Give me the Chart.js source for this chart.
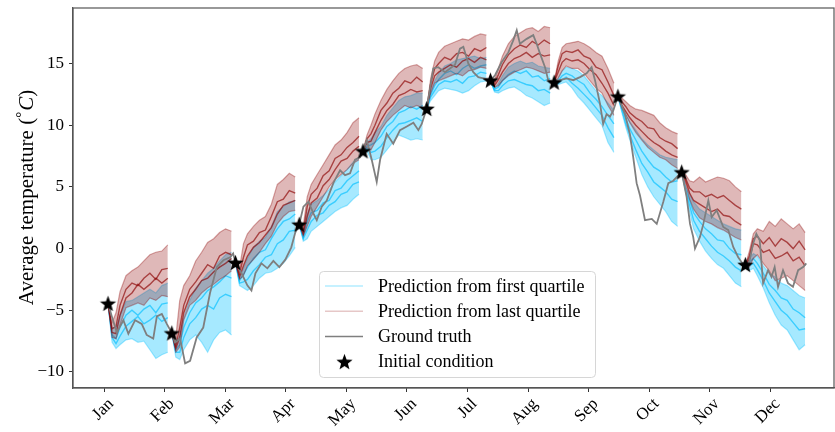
<!DOCTYPE html>
<html>
<head>
<meta charset="utf-8">
<script src="https://cdn.jsdelivr.net/npm/chart.js@4.4.0/dist/chart.umd.min.js"></script>
<style>
  html, body { margin: 0; padding: 0; background: #fff; }
</style>
</head>
<body>
<canvas id="tempChart" width="835" height="432"></canvas>
<script>
// axis labels
const monthLabels = ['Jan', 'Feb', 'Mar', 'Apr', 'May', 'Jun', 'Jul', 'Aug', 'Sep', 'Oct', 'Nov', 'Dec'];
const monthTicks = [0, 30.4, 60.8, 91.3, 121.7, 152.1, 182.5, 212.9, 243.3, 273.8, 304.2, 334.6];
const yTicks = [-10, -5, 0, 5, 10, 15];

// initial conditions (day of year, temperature)
const startDays = [2, 34, 66, 98, 130, 162, 194, 226, 258, 290, 322];
const startTemps = [-4.44, -6.84, -1.13, 1.97, 7.92, 11.35, 13.65, 13.49, 12.35, 6.21, -1.30];
// lead time (days) of each forecast sample
const leadDays = [0, 2, 4, 6, 9, 12, 15, 18, 21, 24, 27, 30];

// forecasts started from the first quartile (blue): envelope + two members per month
const blueHi = [
  [-4.44, -6.4, -6.4, -5.4, -4.3, -4.2, -3.9, -3.6, -3.3, -3.6, -3.0, -2.8],
  [-6.84, -7.8, -7.0, -5.6, -4.2, -3.2, -2.6, -2.0, -1.6, -1.0, -0.5, -0.3],
  [-1.13, -2.4, -1.6, -0.8, 0.1, 0.6, 0.9, 1.8, 3.0, 3.4, 3.8, 3.9],
  [1.97, 1.2, 2.8, 3.6, 3.9, 4.3, 4.8, 5.4, 5.9, 6.4, 7.0, 7.4],
  [7.92, 8.6, 8.9, 9.4, 9.9, 10.8, 11.4, 12.0, 12.3, 12.4, 12.6, 12.6],
  [11.35, 12.8, 13.6, 14.2, 14.8, 15.0, 15.3, 15.4, 15.5, 15.6, 15.4, 15.5],
  [13.65, 13.0, 13.4, 14.0, 14.7, 15.0, 15.2, 15.0, 15.1, 14.8, 14.7, 14.6],
  [13.49, 13.8, 14.4, 14.7, 14.6, 14.4, 14.0, 13.4, 12.8, 12.4, 11.8, 11.2],
  [12.35, 11.6, 10.9, 10.3, 9.6, 8.9, 8.4, 8.0, 7.6, 7.4, 7.3, 7.2],
  [6.21, 5.0, 4.4, 3.8, 3.2, 2.9, 2.6, 2.3, 2.0, 1.8, 1.6, 1.5],
  [-1.30, -0.8, -0.4, -0.6, -1.4, -2.0, -2.3, -2.8, -3.0, -3.4, -3.8, -4.0]
];
const blueLo = [
  [-4.44, -7.6, -8.1, -7.8, -7.4, -7.3, -7.6, -7.5, -8.2, -8.9, -8.6, -8.4],
  [-6.84, -8.8, -9.0, -8.2, -7.4, -7.0, -7.6, -8.4, -7.4, -6.8, -6.6, -7.0],
  [-1.13, -3.0, -3.2, -3.4, -3.0, -2.4, -2.0, -1.9, -1.6, -1.2, -0.6, 0.1],
  [1.97, 0.6, 0.8, 1.4, 1.8, 2.2, 2.6, 3.0, 3.3, 3.5, 4.0, 4.4],
  [7.92, 7.9, 7.2, 7.2, 7.4, 8.0, 8.6, 9.2, 9.0, 8.8, 8.9, 8.8],
  [11.35, 12.0, 12.4, 12.8, 13.0, 12.9, 12.8, 12.6, 12.8, 13.2, 13.5, 13.6],
  [13.65, 12.7, 12.6, 12.8, 13.0, 13.1, 12.8, 12.4, 12.2, 11.9, 11.6, 11.8],
  [13.49, 13.3, 13.4, 13.5, 13.0, 12.3, 11.8, 11.2, 10.6, 10.0, 8.6, 7.8],
  [12.35, 11.0, 9.8, 8.8, 7.4, 6.0, 5.0, 4.2, 3.6, 3.0, 2.2, 1.8],
  [6.21, 4.6, 3.0, 1.6, 0.6, -0.2, -0.8, -1.3, -1.6, -2.2, -2.8, -3.1],
  [-1.30, -1.8, -1.6, -2.2, -3.2, -4.4, -5.4, -6.2, -6.6, -7.4, -8.2, -7.8]
];
const blueM1 = [
  [-4.44, -7.0, -7.3, -6.4, -5.4, -5.0, -5.4, -4.9, -4.6, -5.2, -4.5, -4.4],
  [-6.84, -8.2, -7.8, -6.4, -5.2, -4.4, -4.0, -3.4, -3.1, -2.7, -2.2, -2.4],
  [-1.13, -2.6, -2.1, -1.5, -0.8, -0.3, -0.1, 0.8, 1.6, 2.2, 2.4, 2.8],
  [1.97, 0.9, 2.2, 2.9, 3.1, 3.7, 3.9, 4.7, 4.9, 5.5, 5.9, 6.3],
  [7.92, 8.3, 8.4, 8.6, 9.1, 9.9, 10.3, 11.0, 11.2, 11.5, 11.3, 11.6],
  [11.35, 12.5, 13.2, 13.7, 14.2, 14.4, 14.1, 14.6, 14.9, 14.6, 14.8, 14.9],
  [13.65, 12.9, 13.1, 13.6, 14.1, 14.4, 14.2, 14.4, 13.9, 14.0, 13.6, 13.8],
  [13.49, 13.6, 14.0, 14.2, 14.0, 13.6, 13.3, 12.6, 12.1, 11.5, 10.8, 10.1],
  [12.35, 11.4, 10.5, 9.7, 8.8, 7.9, 7.2, 6.6, 6.3, 5.8, 5.4, 5.5],
  [6.21, 4.8, 3.9, 2.9, 2.2, 1.6, 1.2, 0.7, 0.6, 0.0, -0.4, -0.5],
  [-1.30, -1.1, -0.8, -1.2, -2.0, -2.9, -3.4, -4.0, -4.2, -4.9, -5.2, -5.6]
];
const blueM2 = [
  [-4.44, -7.2, -7.7, -7.1, -6.3, -5.9, -5.5, -6.1, -5.8, -5.4, -5.9, -5.6],
  [-6.84, -8.4, -8.4, -7.2, -6.1, -5.6, -4.9, -4.6, -4.9, -4.0, -3.7, -3.9],
  [-1.13, -2.8, -2.7, -2.5, -1.8, -1.3, -0.7, -0.5, 0.4, 0.7, 1.4, 1.5],
  [1.97, 0.8, 1.5, 2.2, 2.7, 2.9, 3.5, 3.8, 4.4, 4.6, 5.2, 5.4],
  [7.92, 8.1, 7.8, 7.9, 8.3, 9.0, 9.6, 10.1, 10.2, 10.4, 10.6, 10.3],
  [11.35, 12.3, 12.8, 13.3, 13.6, 13.5, 13.7, 13.4, 13.9, 14.0, 14.3, 14.2],
  [13.65, 12.8, 12.8, 13.2, 13.6, 13.7, 13.5, 13.3, 13.2, 12.8, 12.9, 12.6],
  [13.49, 13.4, 13.7, 13.9, 13.4, 13.0, 12.5, 12.0, 11.4, 10.8, 9.8, 9.0],
  [12.35, 11.2, 10.1, 9.2, 8.0, 6.9, 6.2, 5.4, 5.0, 4.6, 4.0, 3.8],
  [6.21, 4.7, 3.5, 2.3, 1.4, 0.8, 0.2, -0.3, -0.6, -1.0, -1.5, -1.8],
  [-1.30, -1.4, -1.2, -1.7, -2.6, -3.6, -4.3, -5.0, -5.4, -6.0, -6.6, -6.5]
];

// forecasts started from the last quartile (red)
const redHi = [
  [-4.44, -6.0, -5.2, -3.5, -2.2, -1.8, -1.5, -1.0, -0.5, -0.3, -0.2, 0.3],
  [-6.84, -7.2, -4.2, -3.0, -2.2, -1.0, -0.3, 0.5, 0.8, 1.3, 1.6, 1.4],
  [-1.13, -1.6, 0.4, 1.2, 1.8, 2.3, 2.6, 3.6, 5.2, 5.6, 6.1, 5.8],
  [1.97, 1.8, 4.2, 5.2, 6.0, 6.8, 7.6, 8.4, 8.8, 9.4, 10.2, 10.6],
  [7.92, 9.2, 10.0, 10.9, 12.0, 12.9, 13.6, 14.2, 14.6, 14.8, 14.9, 14.6],
  [11.35, 13.8, 15.2, 15.9, 16.4, 16.6, 16.8, 17.0, 16.9, 17.2, 17.4, 17.3],
  [13.65, 13.6, 14.6, 15.6, 16.6, 17.2, 17.5, 17.8, 17.9, 17.6, 18.0, 17.9],
  [13.49, 15.2, 16.3, 16.6, 16.7, 16.8, 16.6, 16.3, 15.9, 15.6, 14.6, 13.4],
  [12.35, 12.2, 11.9, 11.6, 11.3, 11.2, 11.0, 10.8, 10.2, 9.8, 9.5, 9.3],
  [6.21, 6.0, 5.5, 5.4, 5.8, 5.4, 5.6, 5.8, 5.7, 5.5, 5.0, 4.6],
  [-1.30, -0.2, 1.2, 1.6, 1.4, 2.2, 1.8, 2.4, 2.0, 1.6, 2.0, 1.3]
];
const redLo = [
  [-4.44, -7.2, -7.3, -6.2, -4.8, -4.6, -4.4, -4.6, -4.0, -4.2, -3.8, -3.9],
  [-6.84, -8.4, -8.0, -5.8, -4.6, -4.2, -3.6, -3.2, -2.9, -2.5, -2.2, -1.8],
  [-1.13, -2.5, -2.2, -1.4, -0.9, -0.3, 0.4, 1.0, 2.0, 2.6, 3.0, 3.1],
  [1.97, 1.0, 1.8, 2.6, 3.4, 4.2, 5.0, 5.6, 6.0, 6.4, 6.9, 7.2],
  [7.92, 8.2, 8.0, 8.6, 9.6, 10.3, 10.8, 11.2, 11.6, 11.4, 11.6, 11.4],
  [11.35, 12.6, 13.4, 13.6, 13.8, 14.0, 14.2, 14.0, 14.4, 14.5, 14.7, 14.6],
  [13.65, 13.1, 13.2, 13.6, 14.0, 14.3, 14.5, 14.7, 14.6, 14.4, 14.2, 14.3],
  [13.49, 13.8, 14.4, 14.8, 14.6, 14.6, 14.2, 13.6, 13.0, 12.6, 11.6, 10.8],
  [12.35, 11.4, 10.8, 10.2, 9.4, 8.8, 8.2, 7.8, 7.4, 7.2, 6.8, 6.5],
  [6.21, 5.2, 4.0, 3.2, 2.5, 2.2, 2.0, 1.7, 1.5, 1.2, 0.9, 0.7],
  [-1.30, -1.5, -0.8, -0.5, -1.2, -1.8, -2.6, -2.4, -2.2, -2.6, -3.0, -3.4]
];
const redM1 = [
  [-4.44, -6.5, -6.3, -4.6, -3.3, -2.8, -3.0, -2.4, -2.0, -2.5, -1.7, -1.6],
  [-6.84, -7.9, -6.4, -4.6, -3.3, -2.7, -2.0, -1.3, -1.6, -0.6, -0.3, -0.5],
  [-1.13, -2.0, -0.7, 0.3, 0.6, 1.3, 1.5, 2.6, 3.8, 4.0, 4.7, 4.5],
  [1.97, 1.4, 3.4, 4.4, 4.9, 5.9, 6.3, 7.3, 7.6, 8.2, 8.6, 9.1],
  [7.92, 8.9, 9.3, 10.0, 11.2, 11.8, 12.6, 13.0, 13.6, 13.4, 13.9, 13.5],
  [11.35, 13.4, 14.6, 15.0, 15.5, 15.3, 15.8, 15.9, 15.6, 16.2, 16.0, 16.3],
  [13.65, 13.4, 14.1, 14.9, 15.7, 16.2, 16.5, 16.3, 16.8, 16.5, 16.9, 16.6],
  [13.49, 14.8, 15.8, 16.0, 15.9, 16.1, 15.6, 15.4, 14.7, 14.5, 13.5, 12.4],
  [12.35, 11.9, 11.5, 11.0, 10.6, 10.3, 9.8, 9.7, 9.0, 8.7, 8.5, 8.1],
  [6.21, 5.7, 4.9, 4.6, 4.6, 4.2, 4.4, 4.1, 4.3, 3.9, 3.5, 3.2],
  [-1.30, -0.6, 0.8, 1.0, 0.4, 0.9, 0.2, 0.8, 0.5, 0.0, 0.6, -0.1]
];
const redM2 = [
  [-4.44, -6.8, -6.9, -5.4, -4.0, -3.6, -2.9, -3.3, -2.9, -2.4, -2.8, -2.4],
  [-6.84, -8.1, -7.2, -5.2, -3.9, -3.3, -2.6, -2.4, -1.9, -1.5, -1.2, -0.8],
  [-1.13, -2.3, -1.4, -0.6, 0.1, 0.5, 1.1, 1.7, 2.8, 3.5, 3.7, 3.9],
  [1.97, 1.2, 2.6, 3.7, 4.1, 5.1, 5.6, 6.4, 7.1, 7.3, 7.9, 8.3],
  [7.92, 8.6, 8.7, 9.4, 10.4, 11.2, 11.7, 12.4, 12.6, 12.9, 12.7, 12.8],
  [11.35, 13.0, 14.0, 14.3, 14.6, 14.9, 14.7, 15.2, 15.4, 15.1, 15.5, 15.3],
  [13.65, 13.2, 13.7, 14.3, 15.0, 15.4, 15.6, 15.9, 15.5, 15.8, 15.6, 15.7],
  [13.49, 14.3, 15.1, 15.4, 15.2, 15.3, 15.0, 14.5, 14.1, 13.4, 12.6, 11.6],
  [12.35, 11.6, 11.1, 10.6, 10.0, 9.5, 9.0, 8.6, 8.3, 7.9, 7.6, 7.4],
  [6.21, 5.5, 4.5, 3.9, 3.6, 3.3, 3.0, 3.2, 2.7, 2.6, 2.2, 1.9],
  [-1.30, -0.9, 0.4, 0.3, -0.3, -0.1, -0.8, -0.6, -0.3, -1.0, -0.7, -1.4]
];

// observed daily mean temperature
const truthDays = [
  2, 3.9, 6.4, 9.7, 12.2, 15.6, 18.9, 21.4, 24.7, 26.5, 29.0, 31.5,
  34, 35.6, 38.2, 40.7, 43.2, 46.5, 49.8, 53.2, 56.6, 59.9, 63.3, 64.8,
  66, 69, 72, 74, 76, 79, 82, 85, 88, 91, 94, 96,
  98, 100.1, 102.6, 105.1, 106.8, 109.3, 111.8, 115.1, 118.5, 121.0, 123.5, 126.0, 128.5,
  130, 131.9, 134.4, 136.9, 138.6, 141.9, 145.2, 148.6, 152.0, 155.3, 157.8, 159.5,
  162, 165.3, 167.8, 171.2, 173.7, 176.2, 178.7, 180.4, 182.9, 185.4, 187.9, 190.4,
  194, 196.3, 199.6, 203.0, 205.5, 207.2, 208.8, 212.2, 215.5, 217.2, 218.9, 221.4, 223.0,
  226, 228.9, 232.3, 235.6, 239.0, 242.3, 244.8, 246.5, 249.0, 250.6, 252.3, 254.0, 255.7,
  258, 259.0, 261.5, 264.0, 265.7, 267.4, 269.1, 271.6, 275.0, 277.5, 280.8, 283.3, 285.8, 287.5,
  290, 292.5, 294.2, 295.8, 296.7, 299.2, 300.9, 303.4, 305.1, 307.6, 310.9, 313.4, 315.9, 318.4, 320.1,
  322, 323.4, 325.9, 327.5, 329.2, 330.9, 333.4, 335.1, 336.7, 338.4, 340.9, 343.4, 345.9, 348.5, 351.0, 352.6
];
const truthTemps = [
  -4.44, -5.5, -6.8, -5.8, -6.9, -5.8, -6.1, -7.0, -7.3, -5.5, -5.3, -6.1,
  -6.84, -7.6, -7.3, -9.3, -9.1, -7.2, -6.4, -3.6, -1.5, -0.95, -0.7, -0.4,
  -1.13, -2.0, -3.0, -3.4, -2.0, -1.2, -1.6, -1.0, -1.5, -0.9, 0.1, 1.3,
  1.97, 3.4, 3.8, 2.85, 2.3, 3.4, 3.9, 5.3, 6.35, 5.95, 6.1, 7.2, 7.4,
  7.92, 8.8, 7.2, 5.4, 7.2, 9.3, 8.5, 9.6, 9.9, 10.2, 9.6, 10.1,
  11.35, 14.6, 14.7, 14.3, 14.6, 14.9, 16.2, 16.35, 15.0, 14.3, 13.9, 13.8,
  13.65, 14.05, 15.1, 15.9, 16.9, 17.7, 16.6, 17.0, 17.3, 16.6, 15.8, 14.7, 13.65,
  13.49, 13.65, 13.8, 13.65, 13.9, 14.2, 14.7, 13.65, 11.75, 10.1, 10.9, 10.7, 11.2,
  12.35, 12.0, 10.9, 9.3, 7.4, 5.3, 4.3, 2.3, 2.4, 2.0, 3.8, 5.3, 5.5, 5.8,
  6.21, 4.2, 2.0, 0.95, 0.0, 0.95, 2.0, 3.9, 2.55, 3.1, 1.75, 1.5, 0.13, -0.7, -1.1,
  -1.30, -1.5, 0.4, 1.2, 0.67, -2.8, -1.75, -2.3, -1.5, -3.1, -1.75, -2.8, -3.1, -1.75, -1.5, -1.2
];

const FONT = '"Liberation Serif", "Times New Roman", serif';
const BLUE = 'rgba(0,191,255,';
const RED = 'rgba(139,0,0,';

function makeStar(r) {
  const c = document.createElement('canvas');
  const s = Math.ceil(r * 2 + 2);
  c.width = s;
  c.height = s;
  const g = c.getContext('2d');
  g.translate(s / 2, s / 2 + r * 0.1);
  g.beginPath();
  for (let i = 0; i < 10; i++) {
    const rad = i % 2 ? r * 0.42 : r;
    const a = -Math.PI / 2 + i * Math.PI / 5;
    const px = Math.cos(a) * rad, py = Math.sin(a) * rad;
    i ? g.lineTo(px, py) : g.moveTo(px, py);
  }
  g.closePath();
  g.fillStyle = '#000';
  g.fill();
  return c;
}
const starImg = makeStar(8.5);

var datasets = [];

function segmentPoints(vals, k) {
  return vals.map((v, j) => ({x: startDays[k] + leadDays[j], y: v}));
}

function addEnsemble(hi, lo, members, color, order, fillAlpha) {
  for (let k = 0; k < startDays.length; k++) {
    datasets.push({
      data: segmentPoints(hi[k], k), borderColor: color + '0.35)', borderWidth: 1.2,
      fill: '+1', backgroundColor: color + fillAlpha + ')', order: order
    });
    datasets.push({
      data: segmentPoints(lo[k], k), borderColor: color + '0.35)', borderWidth: 1.2,
      fill: false, order: order
    });
    for (m of members) {
      datasets.push({
        data: segmentPoints(m[k], k), borderColor: color + '0.65)', borderWidth: 1.4,
        fill: false, order: order
      });
    }
  }
}

addEnsemble(blueHi, blueLo, [blueM1, blueM2], BLUE, 4, 0.35);
addEnsemble(redHi, redLo, [redM1, redM2], RED, 3, 0.28);

datasets.push({
  data: truthDays.map((d, i) => ({x: d, y: truthTemps[i]})),
  borderColor: '#7f7f7f', borderWidth: 1.8, fill: false, order: 2
});
datasets.push({
  data: startDays.map((d, i) => ({x: d, y: startTemps[i]})),
  showLine: false, pointRadius: 8, pointStyle: starImg, order: 1
});

// spines on top/right, y title with italic C, legend box inside the axes
const decorations = {
  id: 'decorations',
  afterDraw(chart) {
    const c = chart.ctx;
    const a = chart.chartArea;
    c.save();
    c.strokeStyle = '#555';
    c.lineWidth = 1.2;
    c.strokeRect(a.left, a.top, a.right - a.left, a.bottom - a.top);

    // y title
    c.translate(33, (a.top + a.bottom) / 2);
    c.rotate(-Math.PI / 2);
    c.fillStyle = '#000';
    c.textBaseline = 'alphabetic';
    const parts = [
      {t: 'Average temperature (', f: '21px ' + FONT, dy: 0},
      {t: '\u00b0', f: '15px ' + FONT, dy: -7},
      {t: 'C', f: 'italic 21px ' + FONT, dy: 0},
      {t: ')', f: '21px ' + FONT, dy: 0}
    ];
    let total = 0;
    for (p of parts) { c.font = p.f; p.w = c.measureText(p.t).width; total += p.w; }
    let x = -total / 2;
    for (p of parts) { c.font = p.f; c.fillText(p.t, x, p.dy); x += p.w + (p.t === '\u00b0' ? 1 : 0); }
    c.restore();

    // legend
    c.save();
    const bx = 319.5, by = 271.5, bw = 276, bh = 106, r = 4;
    c.beginPath();
    c.moveTo(bx + r, by);
    c.arcTo(bx + bw, by, bx + bw, by + bh, r);
    c.arcTo(bx + bw, by + bh, bx, by + bh, r);
    c.arcTo(bx, by + bh, bx, by, r);
    c.arcTo(bx, by, bx + bw, by, r);
    c.closePath();
    c.fillStyle = 'rgba(255,255,255,0.8)';
    c.fill();
    c.strokeStyle = '#d6d6d6';
    c.lineWidth = 1;
    c.stroke();

    const rows = [
      {label: 'Prediction from first quartile', color: BLUE + '0.3)', w: 1.5},
      {label: 'Prediction from last quartile', color: RED + '0.22)', w: 1.5},
      {label: 'Ground truth', color: '#7f7f7f', w: 1.5},
      {label: 'Initial condition', star: true}
    ];
    c.font = '18px ' + FONT;
    c.textBaseline = 'middle';
    rows.forEach((row, i) => {
      const yy = 286 + i * 25.2;
      if (row.star) {
        c.drawImage(starImg, 344.5 - starImg.width / 2, yy - starImg.height / 2);
      } else {
        c.strokeStyle = row.color;
        c.lineWidth = row.w;
        c.beginPath();
        c.moveTo(325, yy);
        c.lineTo(363, yy);
        c.stroke();
      }
      c.fillStyle = '#000';
      c.fillText(row.label, 378, yy + 1);
    });
    c.restore();
  }
};

function noPadding(s) {
  s.paddingLeft = 0;
  s.paddingRight = 0;
  s.paddingTop = 0;
  s.paddingBottom = 0;
}

var ctx = document.getElementById('tempChart').getContext('2d');
var tempChart = new Chart(ctx, {
  type: 'line',
  data: { datasets: datasets },
  options: {
    responsive: false,
    animation: false,
    events: [],
    layout: { autoPadding: false, padding: { top: 8, right: 1, left: 0, bottom: 0 } },
    elements: { point: { radius: 0 }, line: { tension: 0 } },
    plugins: { legend: { display: false }, tooltip: { enabled: false } },
    scales: {
      x: {
        type: 'linear', min: -15.6, max: 366.5,
        afterBuildTicks: s => { s.ticks = monthTicks.map(v => ({value: v})); },
        afterFit: s => { s.height = 44; noPadding(s); },
        ticks: {
          autoSkip: false, minRotation: 45, maxRotation: 45, padding: 2, labelOffset: 7,
          color: '#000', font: { family: FONT, size: 17 },
          callback: (v) => monthLabels[monthTicks.indexOf(v)]
        },
        grid: { drawOnChartArea: false, drawTicks: true, tickLength: 4, color: '#333' },
        border: { color: '#555', width: 1.2 }
      },
      y: {
        min: -11.3, max: 19.5,
        afterBuildTicks: s => { s.ticks = yTicks.map(v => ({value: v})); },
        afterFit: s => { s.width = 73; noPadding(s); },
        ticks: {
          padding: 5, color: '#000',
          font: { family: FONT, size: 17 },
          callback: (v) => v < 0 ? '\u2212' + Math.abs(v) : String(v)
        },
        grid: { drawOnChartArea: false, drawTicks: true, tickLength: 4, color: '#333' },
        border: { color: '#555', width: 1.2 }
      }
    }
  },
  plugins: [decorations]
});
</script>
</body>
</html>
